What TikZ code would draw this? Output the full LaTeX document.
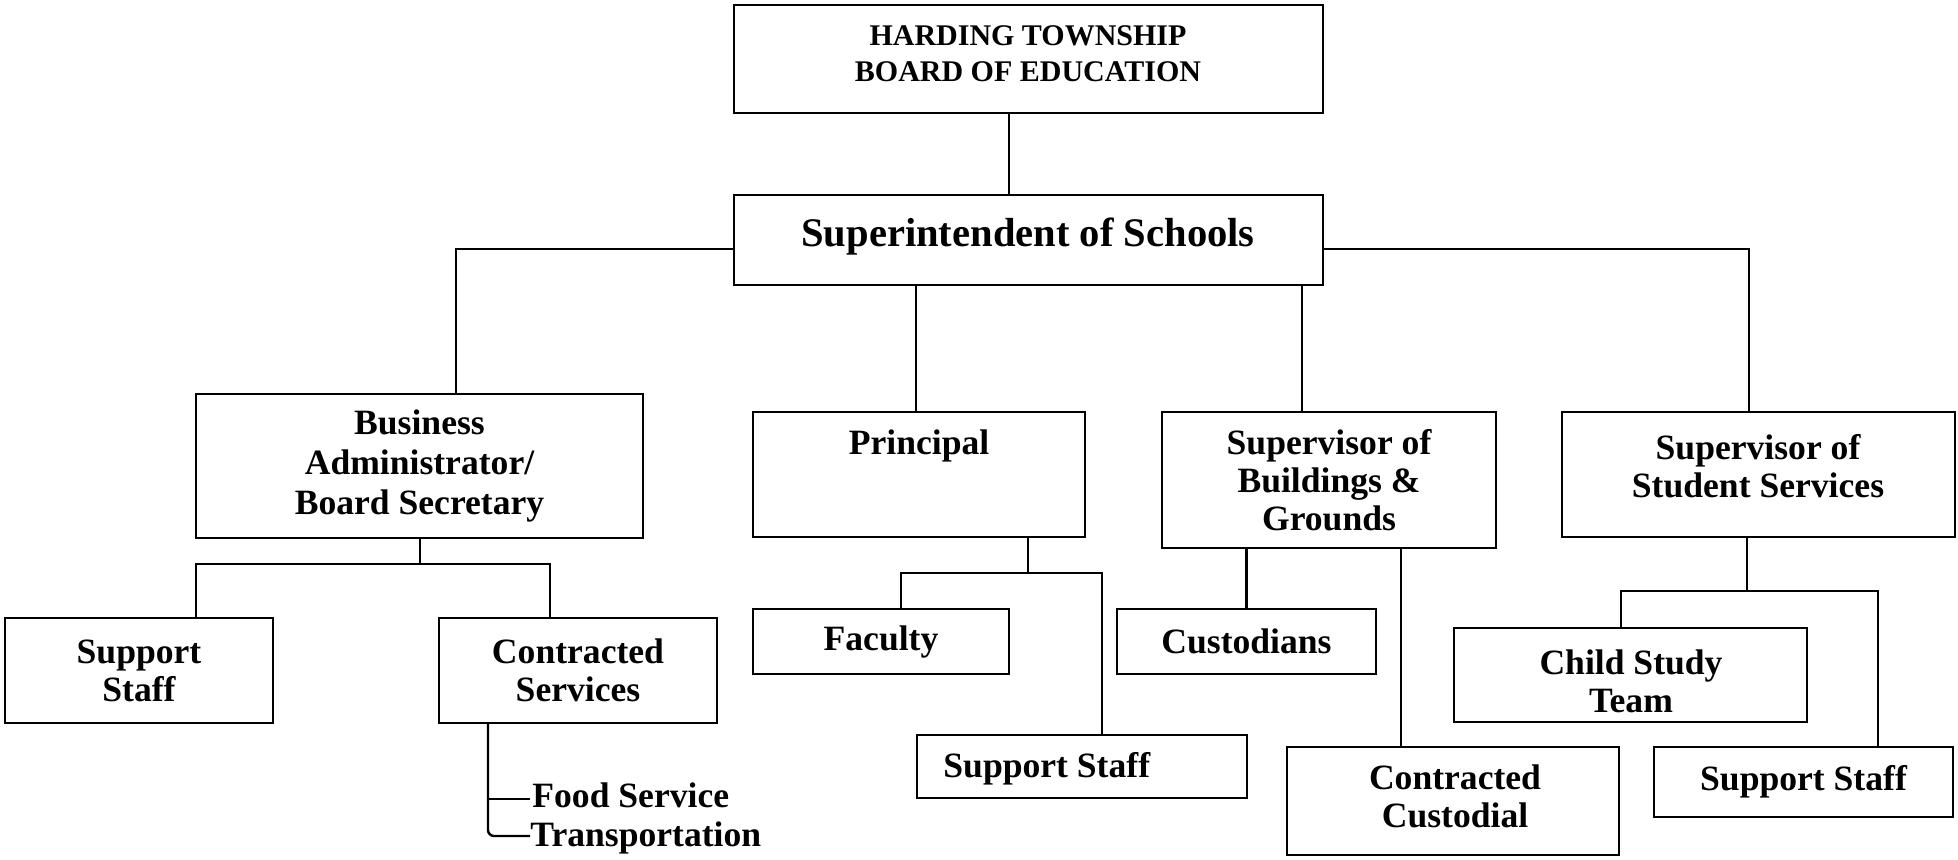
\documentclass[tikz,border=0pt]{standalone}
\usepackage{fontspec}
\setmainfont{Liberation Serif}
\begin{document}
\begin{tikzpicture}[x=0.5pt,y=-0.5pt,
  box/.style={draw, line width=1.2pt, inner sep=0pt, align=center,
    font=\bfseries\fontsize{17.8}{19}\selectfont},
  sz/.style 2 args={minimum width=#1*0.5pt, minimum height=#2*0.5pt},
  lbl/.style={inner sep=0pt, align=center,
    font=\bfseries\fontsize{17.8}{19}\selectfont},
  wire/.style={line width=1.2pt}]
\useasboundingbox[fill=white] (0,0) rectangle (1958,859);

% ---- top of the chart ----
\node[box, sz={589}{108}] (board) at (1028.5,59) {};
\node[lbl, font=\bfseries\fontsize{15}{18}\selectfont] (boardtxt) at (1028,54)
  {HARDING TOWNSHIP\\BOARD OF EDUCATION};
\node[box, sz={589}{90}] (super) at (1028.5,240) {};
\node[lbl, font=\bfseries\fontsize{20.3}{22}\selectfont] (supertxt) at (1028,237)
  {Superintendent of Schools};

% ---- second level ----
\node[box, sz={447}{144}, font=\bfseries\fontsize{17.8}{20}\selectfont]
  (busadmin) at (419.5,466) {Business\\Administrator/\\Board Secretary};
\node[box, sz={332}{125}] (principal) at (919,474.5) {};
\node[lbl] (principaltxt) at (919,446) {Principal};
\node[box, sz={334}{136}] (buildings) at (1329,480)
  {Supervisor of\\Buildings \&\\Grounds};
\node[box, sz={393}{125}] (student) at (1758.5,474.5) {};
\node[lbl] (studenttxt) at (1758,466) {Supervisor of\\Student Services};

% ---- third level ----
\node[box, sz={268}{105}] (supportB) at (139,670.5) {Support\\Staff};
\node[box, sz={278}{105}] (contracted) at (578,670.5) {Contracted\\Services};
\node[box, sz={256}{65}] (faculty) at (881,641.5) {Faculty};
\node[box, sz={330}{63}] (supportP) at (1082,766.5) {};
\node[lbl, anchor=west] (supportPtxt) at (943,769) {Support Staff};
\node[box, sz={259}{65}] (custodians) at (1246.5,641.5) {Custodians};
\node[box, sz={332}{108}] (contcust) at (1453,801) {};
\node[lbl] (contcusttxt) at (1455,796) {Contracted\\Custodial};
\node[box, sz={353}{94}] (childstudy) at (1630.5,675) {};
\node[lbl] (childstudytxt) at (1631,681) {Child Study\\Team};
\node[box, sz={299}{70}] (supportS) at (1803.5,782) {Support Staff};

% ---- connector columns, junctions and free ends ----
\coordinate (cBoard) at (1009,0);
\coordinate (cBus) at (456,0);
\coordinate (cPrin) at (916,0);
\coordinate (cBld) at (1302,0);
\coordinate (cStu) at (1749,0);
\coordinate (yTop) at (0,249);

\coordinate (busJ) at (420,564);
\coordinate (prinJ) at (1028,573);
\coordinate (stuJ) at (1747,591);

\coordinate (listTop) at (488,722);
\coordinate (foodEnd) at (530,799);
\coordinate (transEnd) at (530,836);

% ---- connectors ----
\draw[wire] (board.south -| cBoard) -- (super.north -| cBoard);
\draw[wire] (super.west |- yTop) -| (busadmin.north -| cBus);
\draw[wire] (super.east |- yTop) -| (student.north -| cStu);
\draw[wire] (super.south -| cPrin) -- (principal.north -| cPrin);
\draw[wire] (super.south -| cBld) -- (buildings.north -| cBld);

% business administrator branch
\draw[wire] (busadmin.south -| busJ) -- (busJ);
\draw[wire] (supportB.north -| 196,0) |- (busJ) -| (contracted.north -| 550,0);

% contracted services list
\draw[wire, rounded corners=3pt] (contracted.south -| listTop) |- (transEnd);
\draw[wire] (listTop |- foodEnd) -- (foodEnd);
\node[lbl, anchor=base west] (food) at (532,807) {Food Service};
\node[lbl, anchor=base west] (trans) at (530,846) {Transportation};

% principal branch
\draw[wire] (principal.south -| prinJ) -- (prinJ);
\draw[wire] (faculty.north -| 901,0) |- (prinJ) -| (supportP.north -| 1102,0);

% buildings branch
\draw[wire] (buildings.south -| custodians.north) -- (custodians.north);
\draw[wire] (buildings.south -| 1401,0) -- (contcust.north -| 1401,0);

% student services branch
\draw[wire] (student.south -| stuJ) -- (stuJ);
\draw[wire] (childstudy.north -| 1621,0) |- (stuJ) -| (supportS.north -| 1878,0);
\end{tikzpicture}
\end{document}
